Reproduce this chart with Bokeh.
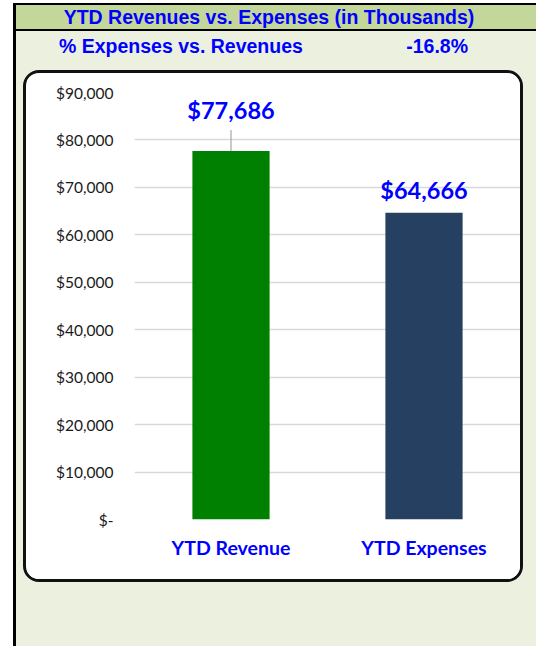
from bokeh.plotting import figure
from bokeh.layouts import column
from bokeh.models import (FactorRange, Range1d, FixedTicker, NumeralTickFormatter,
                          ColumnDataSource, Div)
from bokeh.core.properties import value
from bokeh.embed import file_html
from bokeh.resources import INLINE

# ---- data ----
categories = ["YTD Revenue", "YTD Expenses"]
amounts = [77686, 64666]
bar_colors = ["#008000", "#264061"]
y_ticks = [0, 10000, 20000, 30000, 40000, 50000, 60000, 70000, 80000, 90000]
chart_title = "YTD Revenues vs. Expenses (in Thousands)"
ratio_label = "% Expenses vs. Revenues"

pct = (amounts[1] - amounts[0]) / amounts[0] * 100
pct_text = f"{pct:.1f}%"

# ---- layout constants ----
PAGE_W, PAGE_H = 536, 646
HEADER_H = 70
FIG_W, FIG_H = 494, 506          # content box inside the rounded border
BORDER = 3
CANVAS_W, CANVAS_H = FIG_W + 2 * BORDER, FIG_H + 2 * BORDER   # canvas as measured by Bokeh
B_LEFT, B_TOP = 108, 19
B_RIGHT = CANVAS_W - FIG_W        # frame ends at inner right edge
B_BOTTOM = CANVAS_H - 446
frame_h = CANVAS_H - B_TOP - B_BOTTOM
units_per_px = (y_ticks[-1] - y_ticks[0]) / frame_h

BLUE = "#0000FF"
BEIGE = "#EBF1DE"
BAND = "#C4D79B"
FONT_HDR = "'Liberation Sans', Arial, sans-serif"

header_html = f"""
<div style="position:relative;width:{PAGE_W}px;height:{HEADER_H}px;font-family:{FONT_HDR};
            font-weight:bold;color:{BLUE};">
  <div style="position:absolute;left:0;top:0;width:{PAGE_W}px;height:3px;background:white;"></div>
  <div style="position:absolute;left:16px;top:3px;width:{PAGE_W-16}px;height:2px;background:black;"></div>
  <div style="position:absolute;left:16px;top:5px;width:{PAGE_W-16}px;height:24px;background:{BAND};"></div>
  <div style="position:absolute;left:16px;top:29px;width:{PAGE_W-16}px;height:2px;background:black;"></div>
  <div style="position:absolute;left:0;top:5px;width:538px;height:25px;line-height:25px;
              text-align:center;font-size:19.5px;white-space:nowrap;">{chart_title}</div>
  <div style="position:absolute;left:59px;top:34px;height:24px;line-height:24px;
              font-size:19.5px;white-space:nowrap;">{ratio_label}</div>
  <div style="position:absolute;left:368px;top:34px;width:100px;height:24px;line-height:24px;
              text-align:right;font-size:19.5px;white-space:nowrap;">{pct_text}</div>
</div>
"""
header = Div(text=header_html, width=PAGE_W, height=HEADER_H, margin=(0, 0, 0, 0))

p = figure(width=FIG_W, height=FIG_H,
           x_range=FactorRange(*categories, range_padding=0),
           y_range=Range1d(y_ticks[0], y_ticks[-1]),
           output_backend="svg", toolbar_location=None,
           min_border_left=B_LEFT, min_border_right=B_RIGHT,
           min_border_top=B_TOP, min_border_bottom=B_BOTTOM,
           margin=(0, 0, 0, 23),
           styles={"border": f"{BORDER}px solid #111111", "border-radius": "16px",
                   "overflow": "hidden", "box-sizing": "content-box",
                   "background": "white"})
p.outline_line_color = None
p.background_fill_color = "white"
p.border_fill_color = "white"

# axes
p.yaxis.ticker = FixedTicker(ticks=y_ticks)
p.yaxis.formatter = NumeralTickFormatter(format="$0,0")
p.yaxis.major_label_overrides = {0: "$-"}
p.yaxis.axis_line_color = None
p.yaxis.major_tick_line_color = None
p.yaxis.minor_tick_line_color = None
p.yaxis.major_tick_out = 0
p.yaxis.major_tick_in = 0
p.yaxis.major_label_standoff = 21
p.yaxis.major_label_text_font = "Lato"
p.yaxis.major_label_text_font_size = "15.5px"
p.yaxis.major_label_text_color = "#1a1a1a"

p.xaxis.axis_line_color = None
p.xaxis.major_tick_line_color = None
p.xaxis.major_tick_out = 0
p.xaxis.major_tick_in = 0
p.xaxis.major_label_standoff = 16
p.xaxis.major_label_text_font = "Lato"
p.xaxis.major_label_text_font_style = "bold"
p.xaxis.major_label_text_font_size = "19.5px"
p.xaxis.major_label_text_color = BLUE

p.xgrid.grid_line_color = None
p.ygrid.grid_line_color = "#D9D9D9"
p.ygrid.grid_line_width = 1.5

# bars
src = ColumnDataSource(dict(cat=categories, amount=amounts, color=bar_colors,
                            label=[f"${v:,}" for v in amounts],
                            dy=[-40.5, -23]))
p.vbar(x="cat", top="amount", width=0.4, fill_color="color", line_color=None, source=src)

# leader line for first label
lead_px = 21
p.segment(x0=[categories[0]], y0=[amounts[0]], x1=[categories[0]],
          y1=[amounts[0] + lead_px * units_per_px], line_color="#A6A6A6", line_width=1.2)

p.text(x="cat", y="amount", text="label", source=src, y_offset="dy",
       text_align="center", text_baseline="middle",
       text_font=value("Lato"), text_font_style="bold", text_font_size="23.5px",
       text_color=BLUE)

layout = column(header, p, width=PAGE_W, height=PAGE_H, spacing=0,
                styles={"background": f"linear-gradient(to right, white 0px, white 13px, "
                                      f"black 13px, black 16px, {BEIGE} 16px)"})

open("out.html", "w").write(file_html(layout, INLINE))
